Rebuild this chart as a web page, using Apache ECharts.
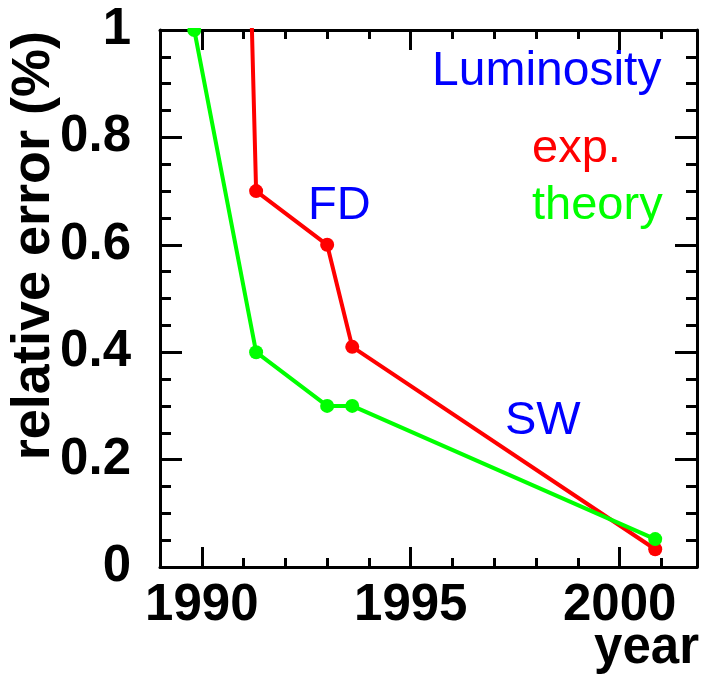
<!DOCTYPE html>
<html>
<head>
<meta charset="utf-8">
<script src="https://cdn.jsdelivr.net/npm/echarts@6/dist/echarts.min.js"></script>
<style>
  html, body { margin: 0; padding: 0; background: #fff; }
  #chart { width: 702px; height: 677px; }
</style>
</head>
<body>
<div id="chart"></div>
<script>
// Luminosity relative error (%) versus year
const expYears = [1991.0, 1991.3, 1993.0, 1993.6, 2000.85];
const expError = [1.6, 0.7, 0.6, 0.41, 0.033];
const theoryYears = [1989.82, 1991.3, 1993.0, 1993.6, 2000.85];
const theoryError = [1.0, 0.4, 0.3, 0.3, 0.052];
const yearTicks = [1990, 1995, 2000];
const yearRange = [1989, 2001.85];
const errorRange = [0, 1];

const FONT = '"Liberation Sans", Arial, Helvetica, sans-serif';
const RED = '#ff0000', GREEN = '#00ff00', BLUE = '#0000ff';

function pairs(xs, ys) { return xs.map((x, i) => [x, ys[i]]); }

function xAxisDef(position, major, withLabels) {
  const ax = {
    type: 'value', position: position, min: yearRange[0], max: yearRange[1],
    splitLine: { show: false },
    axisLine: { show: major, onZero: false, lineStyle: { color: '#000', width: 3 } },
    axisTick: { show: true, inside: true, length: major ? 20 : 9, lineStyle: { color: '#000', width: 3 } },
    axisLabel: { show: false }
  };
  if (major) {
    ax.axisTick.customValues = yearTicks;
    ax.axisLabel = withLabels ? {
      show: true, customValues: yearTicks, margin: 13,
      formatter: v => String(v),
      fontFamily: FONT, fontWeight: 'bold', fontSize: 51, color: '#000'
    } : { show: false };
  } else {
    ax.interval = 1;
  }
  return ax;
}

function yAxisDef(position, withLabels) {
  return {
    type: 'value', position: position, min: errorRange[0], max: errorRange[1], interval: 0.2,
    splitLine: { show: false },
    axisLine: { show: true, onZero: false, lineStyle: { color: '#000', width: 3 } },
    axisTick: { show: true, inside: true, length: 22, lineStyle: { color: '#000', width: 3 } },
    minorTick: { show: true, splitNumber: 4, length: 11, lineStyle: { color: '#000', width: 3 } },
    axisLabel: withLabels ? {
      show: true, margin: 29, fontFamily: FONT, fontWeight: 'bold', fontSize: 51, color: '#000'
    } : { show: false }
  };
}

function note(text, x, y, color, opts) {
  const o = opts || {};
  return {
    type: 'text', x: x, y: y, rotation: o.rotation || 0, z: 20,
    style: {
      text: text, fill: color,
      fontFamily: FONT, fontSize: o.size || 47, fontWeight: o.weight || 'normal',
      align: o.align || 'left', verticalAlign: 'middle',
      textAlign: o.align || 'left', textVerticalAlign: 'middle'
    }
  };
}

const chart = echarts.init(document.getElementById('chart'), null, { renderer: 'canvas' });
chart.setOption({
  animation: false,
  backgroundColor: '#fff',
  grid: { left: 160, right: 5, top: 30, bottom: 110, containLabel: false },
  xAxis: [
    xAxisDef('bottom', true, true),
    xAxisDef('bottom', false, false),
    xAxisDef('top', true, false),
    xAxisDef('top', false, false)
  ],
  yAxis: [
    yAxisDef('left', true),
    yAxisDef('right', false)
  ],
  series: [
    {
      name: 'exp.', type: 'line', xAxisIndex: 0, yAxisIndex: 0, clip: true,
      data: pairs(expYears, expError),
      symbol: 'circle', symbolSize: 14, showSymbol: true,
      lineStyle: { color: RED, width: 4 }, itemStyle: { color: RED }
    },
    {
      name: 'theory', type: 'line', xAxisIndex: 0, yAxisIndex: 0, clip: true,
      data: pairs(theoryYears, theoryError),
      symbol: 'circle', symbolSize: 14, showSymbol: true,
      lineStyle: { color: GREEN, width: 4 }, itemStyle: { color: GREEN }
    }
  ],
  graphic: [
    // keep marks from spilling above the frame
    { type: 'rect', shape: { x: 160, y: 0, width: 540, height: 28 }, style: { fill: '#fff' }, z: 10 },
    note('Luminosity', 432, 71.4, BLUE, { size: 48 }),
    note('exp.', 532, 148.7, RED),
    note('theory', 532, 206.4, GREEN),
    note('FD', 308, 206.4, BLUE),
    note('SW', 505, 421, BLUE),
    note('year', 699, 649.3, '#000', { size: 51, weight: 'bold', align: 'right' }),
    note('relative error (%)', 34, 31, '#000', { size: 54, weight: 'bold', align: 'right', rotation: Math.PI / 2 })
  ]
});
</script>
</body>
</html>
